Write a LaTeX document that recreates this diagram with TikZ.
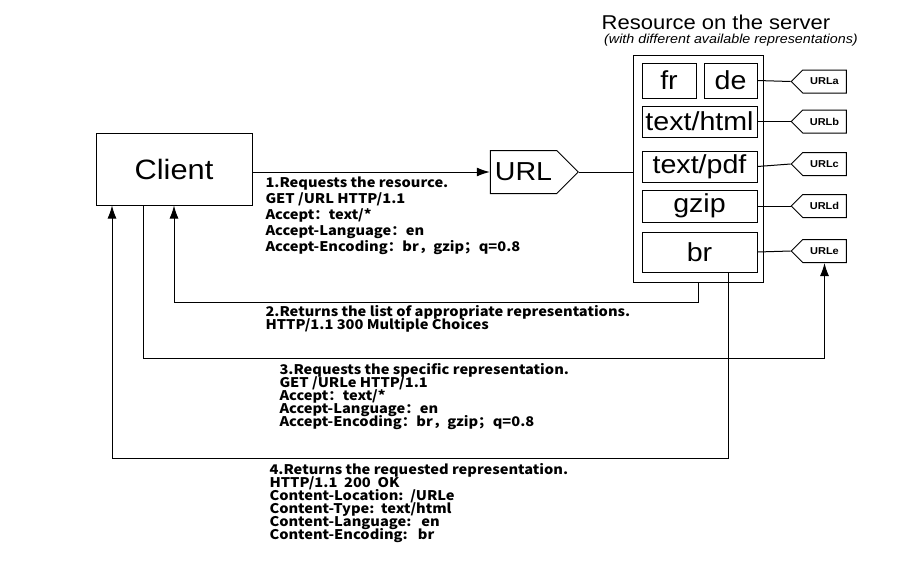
\documentclass[tikz,border=0pt]{standalone}
\usepackage{fontspec}
\setmainfont{Liberation Sans}[FakeStretch=1.1]
\newfontfamily\cjk{Noto Sans CJK SC}[FakeStretch=1.1]
\usetikzlibrary{shapes,positioning,calc,arrows.meta}
\newcommand\msgfont{\cjk\bfseries\fontsize{13.3}{13}\selectfont\setlength{\lineskiplimit}{-20pt}}

\begin{document}
\begin{tikzpicture}[x=1pt,y=-1pt,line width=1pt,
    every node/.append style={inner sep=0pt},
    rep/.style={draw,minimum width=115pt,font=\fontsize{26}{28}\selectfont},
    tag/.style={draw,shape=signal,signal to=west,minimum width=55pt,
                minimum height=23pt,font=\bfseries\fontsize{10}{11}\selectfont},
    msg/.style={anchor=north west,align=left,font=\msgfont},
    arr/.style={-{Latex[length=13pt,width=9pt]}}]
    \useasboundingbox (0,0) rectangle (903,574);
    % titles
    \node (title) at (716,22) {\fontsize{20}{22}\selectfont Resource on the server};
    \node (subtitle) at (731,40) {\fontsize{13}{14}\selectfont\itshape (with different available representations)};
    % client and url
    \node[draw,minimum width=156pt,minimum height=72pt,
          font=\fontsize{28}{30}\selectfont] (client) at (174,169) {Client};
    \node[draw,shape=signal,signal to=east,minimum width=88pt,minimum height=43pt,
          font=\fontsize{26}{28}\selectfont] (url) at (523.5,172) {URL};
    % resource with its representations
    \node[draw,minimum width=130pt,minimum height=227pt] (res) at (698,168.5) {};
    \node[rep,minimum width=54pt,minimum height=35pt] (fr) at (669,80.5) {fr};
    \node[rep,minimum width=53pt,minimum height=35pt] (de) at (730.5,80.5) {de};
    \node[rep,minimum height=31pt] (html) at (699.5,121.5) {text/html};
    \node[rep,minimum height=31pt] (pdf) at (699.5,166.5) {text/pdf};
    \node[rep,minimum height=32pt] (gzip) at (699.5,206) {gzip};
    \node[rep,minimum height=40pt] (br) at (699.5,252) {br};
    \node[tag] (urla) at (824.5,81.5) {URLa};
    \node[tag] (urlb) at (824.5,121.5) {URLb};
    \node[tag] (urlc) at (824.5,164) {URLc};
    \node[tag] (urld) at (824.5,206) {URLd};
    \node[tag] (urle) at (824.5,251) {URLe};
    \draw (de.east) -- (urla.west);
    \draw (html.east) -- (urlb.west);
    \draw (pdf.east) -- (urlc.west);
    \draw (gzip.east) -- (urld.west);
    \draw (br.east) -- (urle.west);
    % requests and responses
    \draw[arr] (client.east |- url.west) -- (url.west);
    \draw (url.east) -- (res.west |- url.east);
    \draw[arr] (res.south) -- ++(0,20) -| (client.south);
    \draw[arr] ([xshift=-31pt]client.south) -- ++(0,153) -| (urle.south);
    \draw[arr] ([xshift=28.5pt]br.south) -- ++(0,186) -| ([xshift=-62pt]client.south);
    \node[msg] (req1) at (265,176) {1.Requests the resource.\\[3pt]
      GET /URL HTTP/1.1\\[3pt] Accept：text/*\\[3pt] Accept-Language：en\\[3pt]
      Accept-Encoding：br，gzip；q=0.8};
    \node[msg] (resp2) at (265,305) {2.Returns the list of appropriate representations.\\
      HTTP/1.1 300 Multiple Choices};
    \node[msg] (req3) at (279,363) {3.Requests the specific representation.\\
      GET /URLe HTTP/1.1\\ Accept：text/*\\ Accept-Language：en\\
      Accept-Encoding：br，gzip；q=0.8};
    \node[msg] (resp4) at (269,463) {4.Returns the requested representation.\\
      HTTP/1.1~~200~~OK\\ Content-Location:~~/URLe\\ Content-Type:~~text/html\\
      Content-Language:~~~en\\ Content-Encoding:~~~br};
\end{tikzpicture}
\end{document}
